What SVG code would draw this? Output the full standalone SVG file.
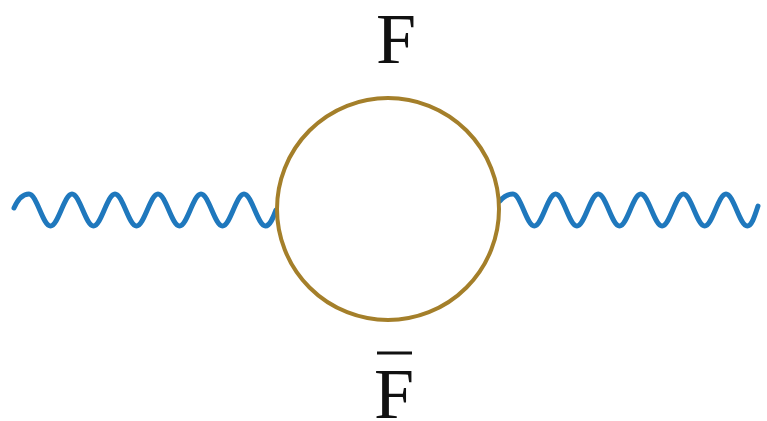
<svg xmlns="http://www.w3.org/2000/svg" width="767" height="421" viewBox="0 0 767 421">
<style>
.wave{fill:none;stroke:#1f78bd;stroke-width:5;stroke-linecap:round;stroke-linejoin:round}
.loop{fill:none;stroke:#a47f2a;stroke-width:4}
.lbl{font-family:"Liberation Serif","Times New Roman",serif;font-size:72px;fill:#111;text-anchor:middle}
</style>
<rect width="767" height="421" fill="#ffffff"/>
<g id="connectors">
<path class="wave" d="M14,208 C18,199 23,194 29,194 C36.8,194 42.7,226 50.5,226 C58.3,226 64.2,194 72,194 C79.8,194 85.7,226 93.5,226 C101.3,226 107.2,194 115,194 C122.8,194 128.7,226 136.5,226 C144.3,226 150.2,194 158,194 C165.8,194 171.7,226 179.5,226 C187.3,226 193.2,194 201,194 C208.8,194 214.7,226 222.5,226 C230.3,226 236.2,194 244,194 C251.8,194 257.7,226 265.5,226 C270,226 273,218 276,210"/>
<path class="wave" d="M500,201 C504,196 508,194 513,194 C520.7,194 526.6,226 534.3,226 C542,226 547.9,194 555.6,194 C563.3,194 569.2,226 576.9,226 C584.6,226 590.5,194 598.2,194 C605.9,194 611.8,226 619.5,226 C627.2,226 633.1,194 640.8,194 C648.5,194 654.4,226 662.1,226 C669.8,226 675.7,194 683.4,194 C691.1,194 697,226 704.7,226 C712.4,226 718.3,194 726,194 C733.7,194 739.6,226 747.3,226 C752,226 755,215 758,206"/>
</g>
<g id="loop">
<circle class="loop" cx="388" cy="209" r="111"/>
</g>
<g id="label-F">
<text class="lbl" x="396" y="63">F</text>
</g>
<g id="label-Fbar">
<text class="lbl" x="394" y="418">F</text>
<line x1="377" y1="353" x2="412" y2="353" stroke="#111" stroke-width="3"/>
</g>
</svg>
